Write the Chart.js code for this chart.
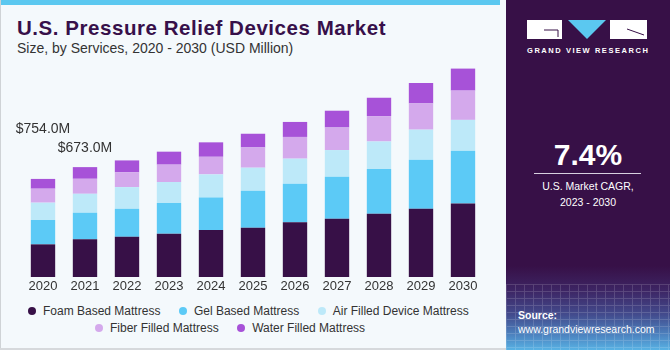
<!DOCTYPE html>
<html>
<head>
<meta charset="utf-8">
<script src="https://cdn.jsdelivr.net/npm/chart.js@4/dist/chart.umd.min.js"></script>
<style>
  html, body { margin: 0; padding: 0; }
  body { width: 670px; height: 350px; position: relative; overflow: hidden; background: #f4f9fc; font-family: "Liberation Sans", Arial, sans-serif; }
  #leftborder { position: absolute; left: 0; top: 0; width: 1px; height: 350px; background: #cfd3d6; }
  #bottomborder { position: absolute; left: 0; top: 348px; width: 506px; height: 2px; background: #d6d9dc; }
  #topbar { position: absolute; left: 0; top: 0; width: 500px; height: 5px; background: #5bc8f0; }
  #title { position: absolute; left: 17px; top: 15.5px; font-size: 20.5px; font-weight: bold; color: #37104a; letter-spacing: 0.55px; white-space: nowrap; }
  #subtitle { position: absolute; left: 17px; top: 40px; font-size: 14px; color: #333; white-space: nowrap; }
  #chartwrap { position: absolute; left: 22px; top: 60px; width: 462px; height: 240px; }
  .callout { position: absolute; font-size: 14px; color: #333; white-space: nowrap; transform: translateX(-50%); }
  #legend { position: absolute; left: 0; top: 303px; width: 500px; font-size: 12px; color: #333; }
  .lrow { position: absolute; display: flex; white-space: nowrap; }
  .litem { display: flex; align-items: center; margin-right: 18.5px; height: 16px; }
  .ldot { width: 8px; height: 8px; border-radius: 50%; margin-right: 7px; }
  #panel { position: absolute; left: 506px; top: 0; width: 164px; height: 350px;
    background: linear-gradient(to bottom, #371047 0%, #371047 76%, #3d2564 83%, #434c8e 90%, #4d86c2 96%, #58b2e4 100%); overflow: hidden; }
  #grid { position: absolute; left: 0; top: 284px; width: 164px; height: 66px; opacity: 0.16;
    background-image: repeating-linear-gradient(to right, rgba(255,255,255,0.9) 0 1px, transparent 1px 9px),
                      repeating-linear-gradient(to bottom, rgba(255,255,255,0.9) 0 1px, transparent 1px 7px); }
  #gvr { position: absolute; left: 21px; top: 46px; width: 120px; text-align: center; font-size: 7.5px; font-weight: bold; color: #fff; letter-spacing: 1.55px; white-space: nowrap; }
  #cagr { position: absolute; left: 0; width: 164px; top: 138px; text-align: center; font-size: 30px; font-weight: bold; color: #fff; }
  #cagrline { position: absolute; left: 28px; top: 173px; width: 107px; height: 1px; background: #d8d0e0; }
  #cagrtext { position: absolute; left: 0; width: 164px; top: 178px; text-align: center; font-size: 10.5px; color: #fff; line-height: 16px; }
  #source { position: absolute; left: 12px; top: 309px; font-size: 10.5px; color: #fff; line-height: 13.5px; }
</style>
</head>
<body>
<div id="topbar"></div>
<div id="leftborder"></div>
<div id="bottomborder"></div>
<div id="title">U.S. Pressure Relief Devices Market</div>
<div id="subtitle">Size, by Services, 2020 - 2030 (USD Million)</div>
<div id="chartwrap"><canvas id="c" width="462" height="240"></canvas></div>
<div id="callouts"></div>
<div id="legend"></div>
<div id="panel">
  <div id="grid"></div>
  <svg style="position:absolute;left:0;top:0" width="164" height="60">
    <rect x="21" y="20" width="35" height="19" fill="#fff"/>
    <path d="M38 30 H52 V37" stroke="#371047" stroke-width="1" fill="none"/>
    <polygon points="62,20 100,20 81,39" fill="#5bc8f0"/>
    <rect x="104" y="20" width="37" height="19" fill="#fff"/>
    <path d="M121 29 L138 35" stroke="#371047" stroke-width="1" fill="none"/>
  </svg>
  <div id="gvr">GRAND VIEW RESEARCH</div>
  <div id="cagr">7.4%</div>
  <div id="cagrline"></div>
  <div id="cagrtext">U.S. Market CAGR,<br>2023 - 2030</div>
  <div id="source"><b>Source:</b><br>www.grandviewresearch.com</div>
</div>
<script>
// ---- data ----
const years = ['2020','2021','2022','2023','2024','2025','2026','2027','2028','2029','2030'];
const foamBased  = [224, 259, 276, 297, 322, 338, 375, 400, 434, 469, 505];
const gelBased   = [167, 182, 192, 211, 224, 254, 265, 288, 307, 336, 362];
const airFilled  = [119, 130, 149, 144, 158, 158, 172, 183, 189, 206, 211];
const fiberFilled= [ 96, 103, 101, 119, 121, 139, 149, 155, 174, 180, 201];
const waterFilled= [ 67,  80,  82,  89,  99,  94, 103, 115, 126, 140, 151];
const seriesNames = ['Foam Based Mattress','Gel Based Mattress','Air Filled Device Mattress','Fiber Filled Mattress','Water Filled Mattress'];
const calloutTexts = ['$754.0M', '$673.0M'];
const calloutYearIdx = [0, 1];

// ---- styles ----
const colors = ['#371047', '#5ccaf6', '#bde9f9', '#d4a9ec', '#a752d8'];
const calloutTop = [120, 139];

const seriesValues = [foamBased, gelBased, airFilled, fiberFilled, waterFilled];
const chart = new Chart(document.getElementById('c'), {
  type: 'bar',
  data: {
    labels: years,
    datasets: seriesValues.map((v, i) => ({
      label: seriesNames[i], data: v, backgroundColor: colors[i],
      borderWidth: 0, categoryPercentage: 1.0, barPercentage: 0.58
    }))
  },
  options: {
    responsive: false, animation: false, devicePixelRatio: 1,
    layout: { padding: 0 },
    plugins: { legend: { display: false }, tooltip: { enabled: false } },
    scales: {
      x: { stacked: true, grid: { display: false, drawTicks: false }, border: { display: false },
           ticks: { color: '#333', font: { family: 'Liberation Sans', size: 13 }, padding: 2, maxRotation: 0 },
           afterFit: s => { s.height = 23; } },
      y: { stacked: true, display: false, min: 0, max: 1489 }
    }
  }
});

// callouts positioned from x scale
const co = document.getElementById('callouts');
calloutTexts.forEach((t, i) => {
  const d = document.createElement('div');
  d.className = 'callout';
  d.textContent = t;
  d.style.left = (22 + chart.scales.x.getPixelForValue(calloutYearIdx[i])) + 'px';
  d.style.top = calloutTop[i] + 'px';
  co.appendChild(d);
});

// legend from datasets
const legendRows = [[0,1,2],[3,4]];
const rowPos = [[28, 0], [95, 16.5]];
const lg = document.getElementById('legend');
legendRows.forEach((row, r) => {
  const rd = document.createElement('div');
  rd.className = 'lrow';
  rd.style.left = rowPos[r][0] + 'px';
  rd.style.top = rowPos[r][1] + 'px';
  row.forEach(i => {
    const it = document.createElement('div'); it.className = 'litem';
    const dot = document.createElement('div'); dot.className = 'ldot'; dot.style.background = colors[i];
    const tx = document.createElement('span'); tx.textContent = seriesNames[i];
    it.appendChild(dot); it.appendChild(tx); rd.appendChild(it);
  });
  lg.appendChild(rd);
});
</script>
</body>
</html>
